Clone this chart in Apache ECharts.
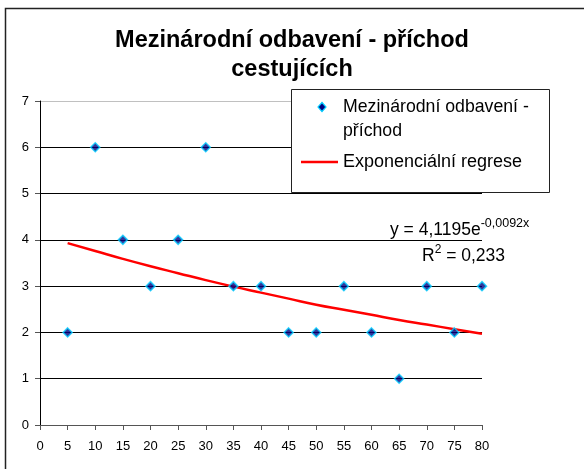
<!DOCTYPE html>
<html><head><meta charset="utf-8">
<script src="https://cdn.jsdelivr.net/npm/echarts@6/dist/echarts.min.js"></script>
<style>html,body{margin:0;padding:0;background:#fff}#c{width:584px;height:469px}</style>
</head><body><div id="c"></div>
<script>
const xValues = [5, 10, 15, 20, 25, 30, 35, 40, 45, 50, 55, 60, 65, 70, 75, 80];
const yValues = [2, 6, 4, 3, 4, 6, 3, 3, 2, 2, 3, 2, 1, 3, 2, 3];
// trend line values (exponential regression)
const trendX = [5, 10, 15, 20, 25, 30, 35, 40, 45, 50, 55, 60, 65, 70, 75, 80];
const trendY = [3.93, 3.76, 3.59, 3.43, 3.28, 3.13, 2.99, 2.86, 2.73, 2.60, 2.49, 2.38, 2.27, 2.17, 2.07, 1.97];
const xTicks = [0, 5, 10, 15, 20, 25, 30, 35, 40, 45, 50, 55, 60, 65, 70, 75, 80];
const yTicks = [0, 1, 2, 3, 4, 5, 6, 7];
const titleText = 'Mezinárodní odbavení - příchod\ncestujících';
const seriesName = 'Mezinárodní odbavení - příchod';
const trendName = 'Exponenciální regrese';

const F = 'Liberation Sans, Arial, sans-serif';
const chart = echarts.init(document.getElementById('c'));
chart.setOption({
  animation: false,
  title: {
    text: titleText, left: 'center', top: 26, padding: 0,
    textStyle: {fontFamily: F, fontSize: 23.5, fontWeight: 'bold', color: '#000', lineHeight: 29}
  },
  grid: {left: 40, right: 102, top: 101, bottom: 44},
  xAxis: {
    type: 'value', min: xTicks[0], max: xTicks[xTicks.length - 1], interval: 5,
    axisLine: {lineStyle: {color: '#555', width: 1}},
    axisTick: {show: true, length: 5, lineStyle: {color: '#555'}},
    axisLabel: {fontFamily: F, fontSize: 13, color: '#000', margin: 15},
    splitLine: {show: false}
  },
  yAxis: {
    type: 'value', min: yTicks[0], max: yTicks[yTicks.length - 1], interval: 1,
    axisLine: {show: true, lineStyle: {color: '#000', width: 1}},
    axisTick: {show: true, length: 5, lineStyle: {color: '#555'}},
    axisLabel: {fontFamily: F, fontSize: 13, color: '#000', margin: 11},
    splitLine: {show: true, lineStyle: {color: ['#000', '#000', '#000', '#000', '#000', '#000', '#000', '#c0c0c0'], width: 1}}
  },
  series: [
    {
      name: trendName, type: 'line', data: trendX.map((x, i) => [x, trendY[i]]),
      showSymbol: false, smooth: true, lineStyle: {color: '#ff0000', width: 2.5}, z: 2
    },
    {
      name: seriesName, type: 'scatter', data: xValues.map((x, i) => [x, yValues[i]]),
      symbol: 'diamond', symbolSize: 9,
      itemStyle: {color: '#000080', borderColor: '#00ccff', borderWidth: 1.5}, z: 3
    }
  ],
  graphic: [
    {type: 'rect', shape: {x: 5.5, y: 8.5, width: 600, height: 500}, style: {fill: null, stroke: '#222', lineWidth: 1.5}, silent: true},
    {type: 'rect', shape: {x: 291.5, y: 89.5, width: 258, height: 103}, style: {fill: '#fff', stroke: '#222', lineWidth: 1}, z: 10},
    {type: 'polygon', shape: {points: [[322, 102.5], [326, 107], [322, 111.5], [318, 107]]}, style: {fill: '#000080', stroke: '#00ccff', lineWidth: 1.2}, z: 11},
    {type: 'text', x: 343, y: 107, style: {text: 'Mezinárodní odbavení -', font: '17.7px ' + F, fill: '#000', verticalAlign: 'middle'}, z: 11},
    {type: 'text', x: 343, y: 131, style: {text: 'příchod', font: '17.7px ' + F, fill: '#000', verticalAlign: 'middle'}, z: 11},
    {type: 'line', shape: {x1: 301, y1: 162, x2: 338, y2: 162}, style: {stroke: '#ff0000', lineWidth: 2.5}, z: 11},
    {type: 'text', x: 343, y: 162, style: {text: 'Exponenciální regrese', font: '18px ' + F, fill: '#000', verticalAlign: 'middle'}, z: 11},
    {type: 'text', x: 390, y: 230, style: {
      text: '{b|y = 4,1195e}{s|-0,0092x}', verticalAlign: 'middle',
      rich: {b: {fontFamily: F, fontSize: 17.5, color: '#000'}, s: {fontFamily: F, fontSize: 12.5, color: '#000', padding: [0, 0, 12, 0]}}
    }, z: 11},
    {type: 'text', x: 422, y: 256, style: {
      text: '{b|R}{s|2}{b| = 0,233}', verticalAlign: 'middle',
      rich: {b: {fontFamily: F, fontSize: 17.5, color: '#000'}, s: {fontFamily: F, fontSize: 12, color: '#000', padding: [0, 0, 12, 0]}}
    }, z: 11}
  ]
});
</script></body></html>
